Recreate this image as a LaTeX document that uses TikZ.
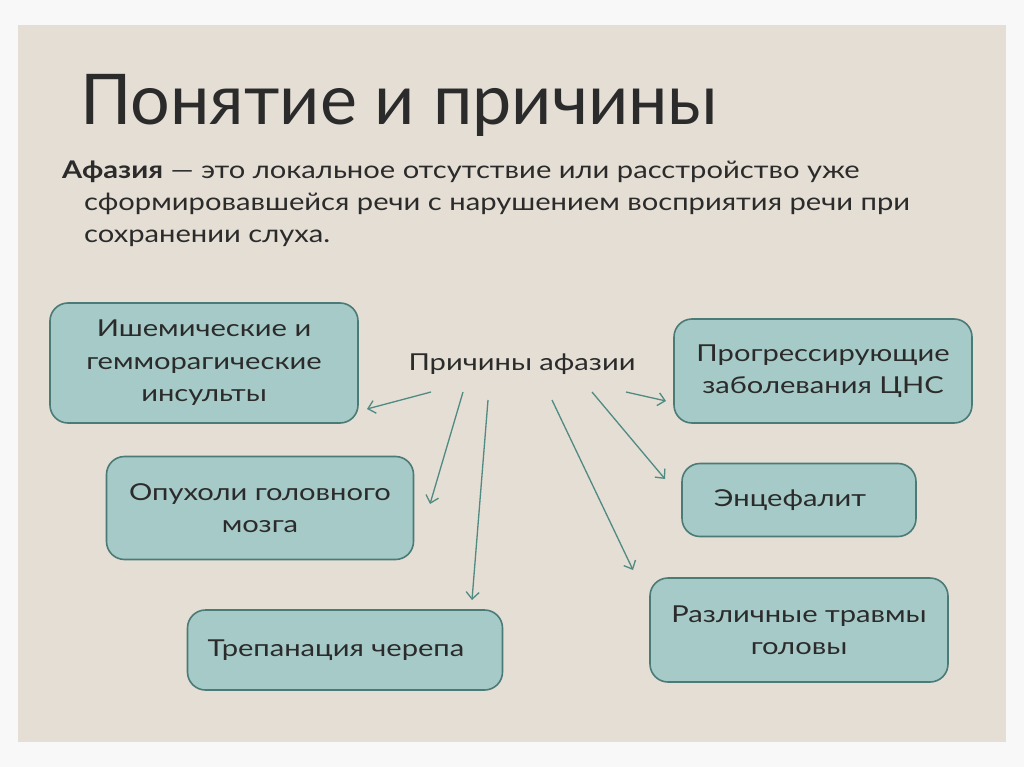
\documentclass[tikz,border=0pt]{standalone}
\usepackage{fontspec}
\setmainfont{Lato}[FakeStretch=1.2]
\newfontfamily\titlefont{Lato}
\newfontfamily\boxfont{Lato}[FakeStretch=1.25]
\usetikzlibrary{arrows.meta}
\definecolor{outerbg}{HTML}{F8F8F8}
\definecolor{slidebg}{HTML}{E4DED4}
\definecolor{boxfill}{HTML}{A5CAC7}
\definecolor{boxline}{HTML}{4B7B77}
\definecolor{arrowc}{HTML}{4F8A83}
\definecolor{txt}{HTML}{2B2B2B}
\tikzset{
  causebox/.style={draw=boxline, line width=1.6pt, fill=boxfill, rounded corners=18pt,
    align=center, text=txt, font=\boxfont\fontsize{23.3}{32.5}\selectfont, inner sep=0pt},
  link/.style={draw=arrowc, line width=1.3pt, -{Straight Barb[length=7pt,width=13pt,line width=1.3pt]}},
  para/.style={anchor=base west, text=txt, font=\fontsize{24.3}{30}\selectfont, inner sep=0pt}
}
\begin{document}
\begin{tikzpicture}[x=1pt,y=-1pt]
\useasboundingbox (0,0) rectangle (1024,767);
\fill[outerbg] (0,0) rectangle (1024,767);
\fill[slidebg] (18,25) rectangle (1006,742);
% title
\node[anchor=base west, inner sep=0pt, text=txt, font=\titlefont\fontsize{70}{80}\selectfont] (title) at (80,125) {Понятие и причины};
% paragraph
\node[para] (p1) at (62,179) {\textbf{Афазия} — это локальное отсутствие или расстройство уже};
\node[para] (p2) at (84,211) {сформировавшейся речи с нарушением восприятия речи при};
\node[para] (p3) at (84,242) {сохранении слуха.};
% boxes
\node[causebox, minimum width=308pt, minimum height=120pt] (b1) at (204,363) {Ишемические и\\геммо\-рагические\\инсульты};
\node[causebox, minimum width=307pt, minimum height=103pt] (b2) at (260,508) {Опухоли головного\\мозга};
\node[causebox, minimum width=315pt, minimum height=80pt] (b3) at (345,650) {\hspace*{-18pt}Трепанация черепа};
\node[causebox, minimum width=298pt, minimum height=104pt] (b4) at (823,371) {Прогрессирующие\\заболевания ЦНС};
\node[causebox, minimum width=234pt, minimum height=73pt] (b5) at (799,500) {\hspace*{-18pt}Энцефалит};
\node[causebox, minimum width=298pt, minimum height=104pt] (b6) at (799,630) {Различные травмы\\головы};
% centre label
\node[inner sep=0pt, text=txt, font=\boxfont\fontsize{23.3}{28}\selectfont] (lbl) at (522,364) {Причины афазии};
% arrow end points
\coordinate (s1) at (431,392); \coordinate (e1) at (367,409);
\coordinate (s2) at (463,392); \coordinate (e2) at (430,504);
\coordinate (s3) at (488,400); \coordinate (e3) at (472,600);
\coordinate (s4) at (552,400); \coordinate (e4) at (633,570);
\coordinate (s5) at (592,392); \coordinate (e5) at (665,479);
\coordinate (s6) at (626,392); \coordinate (e6) at (666,401);
\draw[link] (s1) -- (e1);
\draw[link] (s2) -- (e2);
\draw[link] (s3) -- (e3);
\draw[link] (s4) -- (e4);
\draw[link] (s5) -- (e5);
\draw[link] (s6) -- (e6);
\end{tikzpicture}
\end{document}
